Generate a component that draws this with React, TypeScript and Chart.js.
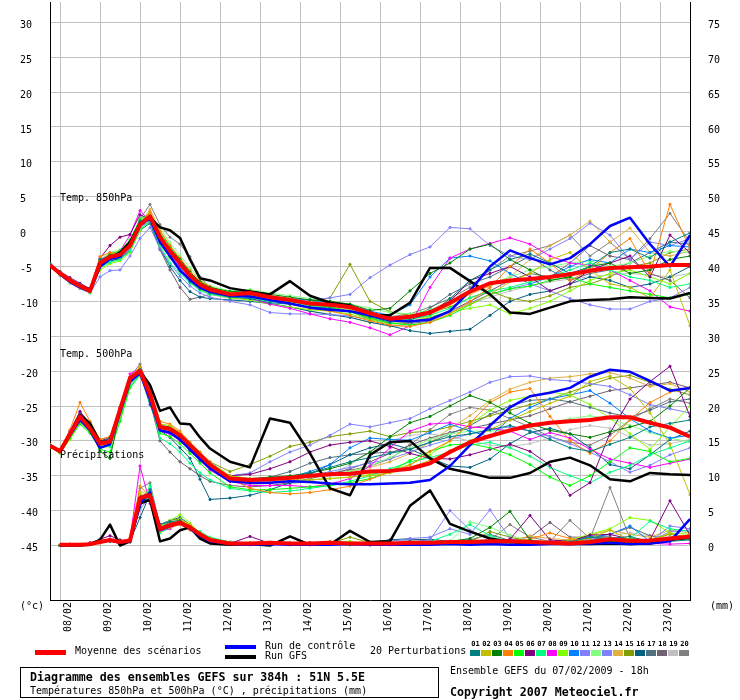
import React, { useEffect, useRef } from "react";
import { Chart, registerables } from "chart.js";
Chart.register(...registerables);

// ---------- time axes (hours after 08/02 00h) ----------
const HOURS_T = [-6, 0, 6, 12, 18, 24, 30, 36, 42, 48, 54, 60, 66, 72, 78, 84, 90,
  102, 114, 126, 138, 150, 162, 174, 186, 198, 210, 222, 234, 246, 258, 270, 282, 294, 306, 318, 330, 342, 354, 366, 378];
const HOURS_P = [0, 6, 12, 18, 24, 30, 36, 42, 48, 54, 60, 66, 72, 78, 84, 90,
  102, 114, 126, 138, 150, 162, 174, 186, 198, 210, 222, 234, 246, 258, 270, 282, 294, 306, 318, 330, 342, 354, 366, 378];
const DAY_HOURS = [0, 24, 48, 72, 96, 120, 144, 168, 192, 216, 240, 264, 288, 312, 336, 360];
const DATE_LABELS = ["08/02", "09/02", "10/02", "11/02", "12/02", "13/02", "14/02", "15/02", "16/02", "17/02", "18/02", "19/02", "20/02", "21/02", "22/02", "23/02"];
const LEFT_TICKS = [-45, -40, -35, -30, -25, -20, -15, -10, -5, 0, 5, 10, 15, 20, 25, 30];
const RIGHT_TICKS = [0, 5, 10, 15, 20, 25, 30, 35, 40, 45, 50, 55, 60, 65, 70, 75];

const MEMBER_IDS = ["01", "02", "03", "04", "05", "06", "07", "08", "09", "10", "11", "12", "13", "14", "15", "16", "17", "18", "19", "20"];
const MEMBER_COLORS = ["#008080", "#c0c000", "#008000", "#ff8000", "#00ff00", "#800080", "#00ff80", "#ff00ff", "#80ff00", "#0080ff",
  "#8080ff", "#80ff80", "#8080ff", "#e0b040", "#80a000", "#006080", "#507080", "#706070", "#c0c0c0", "#808080"];

// ---------- Temp 850 hPa ----------
const T850_MEAN = [-4.8, -6.0, -7.0, -7.8, -8.5, -4.5, -3.6, -3.3, -2.0, 1.0, 2.2, -0.8, -2.8, -4.5, -6.3, -7.6, -8.3,
  -9.0, -8.8, -9.4, -9.8, -10.3, -10.5, -10.8, -11.7, -12.5, -12.2, -11.6, -10.2, -8.6, -7.4, -7.0, -6.8, -6.5, -6.1, -5.6, -5.2, -5.1, -5.0, -4.8, -4.8];
const T850_CTRL = [-4.8, -6.1, -7.2, -8.0, -8.6, -5.0, -3.9, -3.6, -1.8, 1.2, 1.8, -1.5, -3.5, -5.6, -6.9, -8.0, -8.6,
  -9.2, -9.3, -9.8, -10.3, -10.9, -11.2, -11.4, -12.0, -12.7, -12.9, -12.6, -11.4, -8.5, -5.0, -2.7, -3.8, -4.7, -3.8, -1.8, 0.8, 2.0, -1.8, -5.0, -0.5];
const T850_GFS = [-4.8, -6.0, -7.0, -7.8, -8.3, -5.0, -3.8, -3.0, -1.5, 1.2, 2.0, 0.6, 0.2, -0.9, -4.0, -6.7, -7.0,
  -8.1, -8.6, -9.0, -7.1, -9.2, -10.2, -10.6, -12.0, -12.0, -10.2, -5.2, -5.2, -7.1, -9.0, -11.6, -11.8, -10.9, -10.0, -9.8, -9.7, -9.4, -9.5, -9.6, -8.8];
const T850_MEMBERS = [
  [-4.6, -5.8, -6.9, -7.6, -8.4, -4.0, -3.5, -3.0, -1.5, 1.5, 2.0, -1.6, -3.6, -5.5, -7.2, -8.2, -8.8, -9.4, -9.6, -10.2, -10.4, -10.8, -11.0, -11.5, -12.2, -13.0, -12.6, -11.8, -9.6, -7.0, -5.5, -4.0, -3.2, -4.5, -6.0, -5.0, -3.0, -2.5, -3.8, -1.5, -0.2],
  [-4.9, -6.1, -7.1, -7.9, -8.6, -4.8, -3.8, -3.4, -2.2, 0.8, 2.4, -0.5, -2.5, -4.2, -6.0, -7.4, -8.2, -8.8, -8.6, -9.2, -9.6, -10.2, -10.6, -11.2, -12.0, -12.6, -12.8, -12.5, -11.6, -10.4, -9.0, -7.2, -6.0, -4.0, -3.0, -5.5, -7.5, -8.0, -9.5, -5.5, -13.5],
  [-4.8, -5.9, -7.0, -7.7, -8.4, -4.2, -3.4, -3.1, -1.6, 1.4, 2.3, -0.6, -2.4, -4.0, -5.8, -7.2, -8.0, -8.6, -8.5, -9.0, -9.4, -9.8, -10.0, -10.4, -11.3, -11.0, -8.5, -6.0, -4.5, -2.5, -1.8, -4.0, -5.5, -7.0, -6.5, -5.0, -4.5, -6.0, -5.5, -4.0, -3.5],
  [-4.7, -5.8, -6.8, -7.6, -8.3, -3.6, -3.0, -3.2, -1.8, 1.2, 2.8, 0.0, -2.0, -3.8, -5.6, -7.0, -7.9, -8.8, -9.2, -9.8, -10.4, -11.0, -11.4, -12.0, -12.8, -13.4, -13.6, -13.0, -11.8, -10.0, -8.0, -5.0, -2.5, -4.5, -7.0, -5.5, -3.0, -1.0, -6.0, 3.9, -2.5],
  [-4.9, -6.0, -6.9, -7.7, -8.4, -4.4, -3.2, -2.8, -1.2, 1.8, 2.5, -0.2, -2.2, -4.0, -5.9, -7.3, -8.1, -9.0, -9.1, -9.6, -10.0, -10.5, -10.8, -11.5, -12.4, -13.1, -13.4, -13.0, -12.0, -10.5, -9.0, -8.2, -7.8, -7.0, -6.5, -7.5, -8.0, -8.5, -9.0, -9.5, -9.0],
  [-4.7, -5.7, -6.6, -7.4, -8.2, -3.8, -2.0, -0.8, -0.4, 2.4, 1.8, -1.2, -3.0, -4.8, -6.5, -7.7, -8.4, -8.9, -9.0, -9.5, -9.9, -10.4, -10.6, -11.0, -11.8, -12.4, -12.2, -11.4, -10.0, -7.0, -6.0, -5.0, -6.5, -8.5, -7.5, -5.5, -4.5, -3.5, -6.5, -0.5, -3.0],
  [-4.8, -6.1, -7.2, -8.0, -8.7, -5.2, -4.4, -4.0, -2.8, 0.4, 1.4, -2.0, -4.5, -6.0, -7.4, -8.4, -9.0, -9.4, -9.5, -10.0, -10.3, -10.6, -11.0, -11.5, -12.2, -12.8, -12.6, -12.0, -11.0, -9.5, -8.5, -8.0, -7.2, -6.5, -5.5, -4.5, -5.5, -6.5, -7.0, -8.0, -7.5],
  [-4.8, -5.9, -6.9, -7.8, -8.6, -4.6, -3.8, -2.8, -0.5, 3.0, 1.5, -1.0, -3.2, -5.0, -6.8, -8.0, -8.8, -9.3, -9.6, -10.4, -11.0, -11.8, -12.5, -13.0, -13.8, -14.8, -13.5, -8.0, -3.8, -2.5, -1.7, -0.9, -1.8, -3.5, -4.5, -4.8, -5.5, -7.0, -8.5, -10.8, -11.4],
  [-5.0, -6.2, -7.3, -8.1, -8.8, -5.5, -4.6, -4.2, -3.0, 0.2, 1.6, -1.8, -3.8, -5.6, -7.0, -8.2, -8.9, -9.5, -9.8, -10.4, -10.8, -11.2, -11.4, -11.8, -12.6, -13.2, -13.0, -12.2, -11.5, -11.0, -10.5, -11.8, -11.0, -10.0, -8.5, -7.0, -6.0, -5.5, -6.5, -7.5, -6.0],
  [-4.8, -6.0, -7.1, -7.9, -8.6, -4.4, -3.5, -3.5, -2.2, 0.6, 1.9, -1.4, -3.4, -5.2, -6.9, -8.0, -8.6, -9.0, -8.8, -9.2, -9.6, -9.8, -10.2, -10.6, -11.4, -12.0, -10.5, -6.5, -3.8, -3.5, -4.2, -6.0, -7.5, -6.5, -5.0, -4.0, -4.5, -2.5, -3.0, -2.0, -2.2],
  [-5.0, -6.3, -7.4, -8.2, -8.8, -6.5, -5.6, -5.5, -3.5, -1.0, 0.6, -2.4, -4.6, -6.4, -7.8, -8.8, -9.4, -10.0, -10.5, -11.6, -11.8, -11.8, -11.9, -12.1, -12.6, -13.2, -13.0, -12.4, -11.4, -10.2, -9.0, -8.2, -7.5, -8.5, -9.6, -10.5, -11.1, -11.1, -10.0, -9.5, -8.0],
  [-4.8, -5.9, -6.8, -7.6, -8.2, -4.2, -3.0, -2.6, -1.2, 1.6, 2.6, 0.5, -1.6, -3.4, -5.2, -6.8, -7.8, -8.5, -8.3, -8.8, -9.2, -9.6, -10.0, -10.4, -11.0, -11.6, -11.8, -11.2, -10.0, -8.8, -7.5, -6.5, -5.5, -5.0, -4.5, -4.2, -5.0, -4.5, -3.5, -2.8, -3.0],
  [-4.8, -6.0, -7.0, -7.8, -8.5, -4.8, -4.0, -3.6, -2.4, 0.6, 1.6, -1.6, -3.6, -5.4, -7.0, -8.1, -8.8, -9.2, -9.4, -9.8, -9.9, -9.8, -9.5, -9.0, -6.6, -4.8, -3.3, -2.2, 0.6, 0.4, -2.0, -3.5, -4.0, -2.5, -1.0, 1.2, -0.5, -4.0, -1.5, -2.0, -1.0],
  [-4.9, -6.1, -7.1, -7.9, -8.6, -4.6, -3.7, -3.3, -1.9, 1.1, 3.2, 0.2, -2.0, -4.0, -5.8, -7.2, -8.0, -8.7, -8.9, -9.5, -10.0, -10.6, -11.0, -11.5, -12.4, -13.2, -13.0, -12.0, -10.5, -9.0, -7.8, -6.5, -4.0, -2.0, -0.5, 1.5, -1.5, 0.5, -3.0, -3.5, -2.8],
  [-4.7, -5.8, -6.8, -7.6, -8.3, -4.3, -3.4, -3.2, -2.0, 1.0, 2.0, -1.0, -3.0, -4.8, -6.5, -7.8, -8.5, -8.9, -8.9, -9.4, -9.8, -10.2, -9.5, -4.7, -10.0, -11.5, -12.0, -11.6, -10.8, -9.5, -8.5, -9.6, -10.0, -9.2, -8.0, -7.5, -6.5, -5.0, -4.5, -3.0, -2.5],
  [-4.8, -6.0, -7.0, -7.8, -8.4, -4.9, -4.2, -3.9, -2.8, 0.2, 1.2, -2.4, -5.0, -7.0, -8.6, -9.4, -9.6, -9.8, -10.0, -10.3, -10.8, -11.4, -11.9, -12.3, -13.0, -13.5, -14.2, -14.6, -14.3, -14.0, -12.0, -10.0, -9.0, -8.5, -7.5, -6.5, -7.0, -8.0, -7.5, -6.5, -5.0],
  [-4.8, -5.9, -6.9, -7.7, -8.4, -4.5, -3.6, -3.4, -2.1, 1.2, 2.4, -0.4, -2.6, -4.4, -6.2, -7.6, -8.4, -9.0, -9.0, -9.6, -10.0, -10.4, -10.6, -11.0, -12.0, -12.8, -12.4, -11.0, -9.0, -7.5, -6.5, -5.0, -3.5, -5.5, -7.0, -6.0, -5.5, -4.5, -3.0, -1.5, -1.8],
  [-4.8, -6.0, -7.0, -7.8, -8.5, -5.0, -4.2, -3.8, -2.6, 0.8, 1.4, -2.6, -5.5, -8.0, -9.7, -9.4, -9.0, -9.2, -9.0, -9.6, -10.0, -10.5, -10.8, -11.4, -12.6, -13.2, -13.2, -12.8, -11.4, -10.0, -8.5, -7.0, -6.0, -6.5, -4.5, -2.0, -3.5, -4.0, -6.0, -7.0, -9.5],
  [-4.9, -6.1, -7.1, -7.9, -8.6, -5.2, -4.3, -3.8, -2.4, 0.9, 1.7, -1.8, -3.8, -5.6, -7.2, -8.4, -9.0, -9.6, -9.8, -10.4, -10.8, -11.4, -11.8, -12.3, -13.0, -13.6, -13.5, -12.9, -11.6, -10.4, -9.4, -8.5, -7.8, -7.2, -6.8, -6.5, -6.2, -6.0, -6.2, -6.5, -6.0],
  [-4.8, -6.0, -7.0, -7.8, -8.4, -4.0, -3.2, -2.8, -1.6, 1.8, 3.9, 1.0, -0.8, -1.8, -3.6, -6.5, -8.0, -8.8, -8.8, -9.3, -9.7, -10.2, -10.4, -10.8, -11.6, -12.2, -11.8, -10.8, -9.6, -8.0, -5.5, -3.5, -2.8, -2.0, -0.5, -3.5, -1.5, -4.0, -1.0, 2.6, -1.5],
];

// ---------- Temp 500 hPa ----------
const T500_MEAN = [-30.7, -31.5, -29.0, -26.5, -28.2, -30.4, -30.1, -25.5, -21.0, -20.0, -23.3, -28.0, -28.3, -29.2, -30.6, -32.0, -33.4,
  -35.4, -35.6, -35.5, -35.3, -35.0, -34.8, -34.7, -34.4, -34.3, -34.0, -33.2, -31.6, -30.2, -29.3, -28.5, -27.8, -27.4, -27.2, -27.0, -26.6, -26.6, -27.4, -28.1, -29.4];
const T500_CTRL = [-30.7, -31.6, -29.2, -27.0, -28.5, -31.0, -30.5, -26.0, -21.5, -20.3, -24.0, -28.5, -28.8, -29.8, -31.2, -32.6, -33.9,
  -35.8, -36.0, -36.0, -35.8, -35.9, -36.1, -36.2, -36.2, -36.1, -36.0, -35.6, -33.6, -30.6, -27.8, -25.2, -23.6, -23.1, -22.4, -20.8, -19.8, -20.1, -21.4, -22.8, -22.4];
const T500_GFS = [-30.7, -31.5, -29.0, -26.3, -27.5, -30.2, -30.0, -25.5, -21.0, -20.0, -22.0, -25.7, -25.2, -27.5, -27.6, -29.5, -31.1,
  -33.0, -33.8, -26.8, -27.4, -31.8, -36.8, -37.8, -32.0, -30.2, -30.0, -32.5, -34.0, -34.6, -35.3, -35.3, -34.6, -33.0, -32.4, -33.5, -35.5, -35.8, -34.6, -34.8, -34.9];
const T500_MEMBERS = [
  [-30.6, -31.4, -28.8, -26.2, -28.0, -30.2, -29.6, -25.6, -21.0, -19.8, -23.5, -28.4, -28.8, -29.8, -31.4, -32.8, -34.0, -35.6, -35.8, -35.4, -35.2, -34.6, -33.8, -33.0, -32.4, -31.8, -31.2, -30.2, -29.4, -29.0, -28.4, -27.8, -28.6, -29.8, -31.0, -31.5, -30.5, -29.5, -28.0, -27.5, -27.0],
  [-30.8, -31.6, -29.2, -26.8, -28.4, -30.6, -30.4, -26.4, -21.8, -19.6, -22.8, -27.6, -27.8, -28.8, -30.4, -31.8, -33.2, -35.0, -35.4, -35.4, -35.6, -35.6, -35.4, -35.2, -35.0, -34.6, -33.8, -32.8, -31.4, -30.0, -28.4, -27.0, -25.8, -24.6, -23.6, -21.5, -20.7, -22.5, -26.0, -30.5, -37.7],
  [-30.7, -31.5, -29.0, -26.6, -28.1, -31.5, -32.5, -25.8, -21.2, -19.9, -23.0, -27.8, -28.0, -29.0, -30.4, -31.8, -33.2, -35.2, -35.4, -35.2, -35.0, -34.6, -34.0, -33.2, -31.6, -29.4, -27.4, -26.5, -25.0, -23.5, -24.5, -26.0, -27.5, -28.5, -29.0, -29.5, -28.7, -28.0, -27.2, -25.0, -22.4],
  [-30.5, -31.2, -28.4, -24.5, -27.2, -29.8, -29.4, -25.2, -20.8, -19.4, -22.5, -27.2, -27.6, -28.6, -30.2, -31.6, -33.0, -35.4, -36.8, -37.4, -37.6, -37.4, -37.0, -36.5, -35.5, -34.5, -33.5, -31.5, -30.0, -27.5, -24.5, -23.0, -22.5, -26.5, -30.0, -31.8, -30.0, -27.0, -24.5, -23.0, -22.3],
  [-30.8, -31.7, -29.6, -27.6, -28.9, -31.2, -31.6, -27.2, -22.4, -20.6, -24.0, -28.9, -29.4, -30.4, -31.8, -33.2, -34.6, -36.6, -37.0, -37.0, -36.8, -36.6, -36.4, -36.0, -35.4, -34.4, -32.8, -31.5, -30.6, -30.4, -31.0, -32.0, -33.4, -35.2, -36.4, -35.0, -33.0, -31.0, -31.5, -33.0, -32.5],
  [-30.6, -31.3, -28.6, -25.8, -27.6, -30.0, -29.6, -25.4, -21.0, -19.6, -23.0, -27.9, -28.4, -29.4, -30.8, -32.2, -33.6, -35.0, -34.8, -34.0, -33.0, -31.6, -30.6, -30.2, -30.0, -30.8, -31.8, -32.5, -32.6, -32.0, -31.2, -30.5, -31.5, -33.5, -37.8, -36.0, -28.9, -24.0, -21.5, -19.3, -26.5],
  [-30.8, -31.6, -29.4, -27.0, -28.6, -30.8, -30.8, -26.8, -22.2, -20.4, -24.2, -29.6, -30.4, -31.6, -33.2, -34.6, -35.6, -36.8, -37.2, -37.4, -37.2, -36.8, -36.4, -35.8, -35.0, -34.0, -33.0, -32.4, -31.6, -30.6, -30.2, -31.0, -32.2, -33.8, -35.0, -36.0, -34.5, -33.5, -32.0, -31.0, -30.0],
  [-30.7, -31.4, -28.8, -26.0, -27.8, -30.2, -29.8, -25.2, -20.4, -19.6, -23.6, -28.6, -29.0, -30.0, -31.4, -32.8, -34.2, -35.8, -36.4, -36.4, -36.4, -36.6, -36.2, -35.4, -33.6, -31.0, -28.6, -27.6, -27.4, -28.0, -28.2, -28.6, -29.8, -28.8, -29.6, -31.2, -32.6, -33.2, -33.8, -33.2, -32.6],
  [-30.9, -31.8, -29.8, -27.4, -28.8, -31.0, -30.8, -26.6, -21.8, -20.2, -23.8, -28.4, -28.6, -29.6, -31.0, -32.4, -33.8, -35.6, -36.0, -36.0, -35.8, -35.6, -35.4, -35.2, -34.8, -34.2, -33.4, -32.0, -30.0, -27.6, -25.6, -24.2, -23.6, -23.0, -23.4, -24.8, -26.8, -29.0, -31.2, -28.0, -25.0],
  [-30.7, -31.5, -29.1, -26.4, -28.0, -30.4, -30.2, -26.2, -21.6, -20.2, -23.8, -28.4, -28.8, -29.6, -31.2, -32.6, -34.0, -35.6, -35.8, -35.6, -35.2, -34.4, -33.4, -31.0, -29.6, -29.8, -29.9, -28.8, -27.6, -28.6, -29.4, -26.8, -25.2, -24.0, -23.4, -22.8, -24.6, -26.8, -28.6, -29.6, -29.2],
  [-30.6, -31.4, -28.9, -26.3, -27.9, -30.1, -29.9, -25.9, -21.3, -20.1, -23.7, -28.6, -29.0, -29.9, -31.2, -32.6, -33.9, -35.0, -34.6, -33.0, -31.6, -30.6, -29.2, -27.6, -28.0, -27.4, -26.8, -25.4, -24.2, -23.0, -21.6, -20.8, -20.7, -21.2, -21.4, -21.8, -22.2, -23.4, -24.8, -25.4, -26.0],
  [-30.7, -31.5, -29.0, -26.5, -28.2, -30.4, -30.0, -25.8, -21.2, -19.8, -23.0, -27.6, -28.0, -28.8, -30.2, -31.6, -33.0, -35.0, -35.4, -35.5, -35.3, -35.0, -34.8, -34.4, -33.6, -32.4, -31.0, -29.8, -29.0, -28.6, -28.6, -28.4, -28.0, -27.4, -26.8, -26.4, -26.8, -27.8, -28.8, -29.6, -30.2],
  [-30.8, -31.6, -29.3, -26.8, -28.4, -30.6, -30.4, -26.4, -21.9, -20.3, -23.4, -28.2, -28.6, -29.5, -30.9, -32.3, -33.6, -35.2, -35.6, -35.6, -35.4, -35.0, -34.4, -33.8, -33.2, -32.6, -31.6, -30.6, -29.8, -29.0, -28.4, -28.0, -28.6, -29.4, -30.4, -31.6, -33.0, -34.5, -33.5, -32.0, -31.0],
  [-30.6, -31.3, -28.7, -26.0, -27.6, -30.0, -29.6, -25.6, -21.0, -19.7, -23.1, -28.0, -28.4, -29.2, -30.6, -32.0, -33.4, -35.2, -35.6, -35.8, -35.6, -35.2, -34.8, -34.4, -33.8, -33.0, -31.8, -30.2, -28.2, -26.4, -24.2, -22.6, -21.6, -21.0, -20.8, -20.4, -20.2, -21.0, -22.2, -21.8, -23.0],
  [-30.8, -31.6, -29.2, -26.6, -28.3, -30.5, -30.2, -26.1, -21.6, -20.0, -23.2, -28.0, -28.2, -29.0, -30.4, -31.8, -33.0, -34.4, -33.4, -32.2, -30.8, -30.2, -29.4, -29.0, -28.6, -29.4, -28.8, -28.6, -28.0, -27.2, -26.4, -25.6, -24.8, -24.0, -23.0, -22.0, -21.0, -20.6, -21.6, -22.6, -23.4],
  [-30.7, -31.5, -29.0, -26.4, -28.0, -30.2, -29.8, -25.8, -21.4, -20.4, -24.8, -28.5, -29.5, -31.0, -32.5, -35.5, -38.4, -38.2, -37.8, -37.0, -36.0, -34.8, -33.4, -32.0, -31.0, -30.4, -31.2, -32.4, -33.6, -33.8, -32.6, -30.4, -28.8, -28.2, -29.0, -31.0, -33.4, -34.0, -32.0, -29.8, -28.6],
  [-30.7, -31.5, -29.0, -26.5, -28.1, -30.3, -30.0, -25.9, -21.4, -20.0, -23.3, -28.1, -28.4, -29.3, -30.8, -32.2, -33.6, -35.4, -35.6, -35.2, -34.4, -33.2, -32.4, -32.0, -31.8, -31.6, -31.2, -30.2, -29.0, -27.8, -26.2, -25.0, -24.2, -24.0, -24.4, -25.2, -26.0, -26.6, -25.6, -24.4, -24.0],
  [-30.7, -31.4, -28.8, -26.2, -27.8, -30.0, -29.8, -25.8, -21.2, -20.2, -24.4, -30.0, -31.6, -33.0, -34.0, -35.0, -35.8, -36.4, -36.6, -36.4, -36.0, -35.4, -34.8, -34.0, -33.0, -31.8, -30.6, -29.6, -28.8, -28.2, -27.6, -27.0, -26.4, -25.4, -24.4, -23.6, -22.8, -22.4, -22.0, -21.6, -22.4],
  [-30.8, -31.6, -29.4, -27.0, -28.6, -30.8, -30.6, -26.6, -22.0, -20.6, -23.8, -28.4, -28.8, -29.6, -31.0, -32.4, -33.8, -35.8, -36.2, -36.4, -36.2, -35.8, -35.0, -33.4, -31.6, -30.0, -29.2, -29.0, -29.4, -30.0, -30.6, -30.8, -30.4, -29.6, -28.4, -27.8, -28.2, -29.4, -30.6, -30.4, -29.8],
  [-30.6, -31.3, -28.6, -25.8, -27.4, -29.8, -29.4, -25.4, -20.8, -19.0, -22.8, -27.8, -28.6, -29.8, -31.2, -32.6, -34.0, -35.4, -35.6, -35.6, -35.4, -35.0, -34.6, -34.2, -33.6, -32.6, -30.6, -28.4, -26.2, -25.2, -25.6, -26.8, -28.0, -29.4, -30.2, -30.6, -29.2, -27.0, -25.4, -24.0, -24.6],
];

// ---------- Precipitation (mm) ----------
const PR_MEAN = [0.1, 0.1, 0.1, 0.2, 0.5, 0.8, 0.5, 0.7, 6.8, 7.2, 2.4, 2.9, 3.3, 2.6, 1.6, 0.8,
  0.3, 0.3, 0.4, 0.3, 0.3, 0.4, 0.3, 0.3, 0.3, 0.4, 0.4, 0.5, 0.5, 0.6, 0.6, 0.5, 0.4, 0.3, 0.5, 0.9, 0.7, 0.7, 1.0, 1.3];
const PR_CTRL = [0.0, 0.1, 0.1, 0.2, 0.5, 0.8, 0.4, 0.6, 6.0, 7.6, 2.2, 2.8, 3.2, 2.4, 1.4, 0.6,
  0.2, 0.1, 0.2, 0.1, 0.1, 0.1, 0.2, 0.1, 0.1, 0.1, 0.1, 0.2, 0.1, 0.2, 0.1, 0.1, 0.2, 0.2, 0.3, 0.4, 0.2, 0.3, 0.6, 3.8];
const PR_GFS = [0.0, 0.0, 0.0, 0.1, 0.8, 3.0, 0.0, 0.6, 6.0, 6.6, 0.6, 1.0, 2.2, 2.6, 1.0, 0.3,
  0.1, 0.2, 0.0, 1.3, 0.1, 0.1, 2.1, 0.5, 0.6, 5.7, 7.9, 3.1, 2.0, 1.0, 0.5, 0.3, 0.3, 0.2, 0.2, 0.3, 0.2, 0.3, 0.8, 1.2];
const PR_MEMBERS = [
  [0.0, 0.1, 0.1, 0.2, 0.6, 0.9, 0.4, 0.8, 5.5, 8.0, 3.0, 3.4, 3.6, 2.4, 1.2, 0.6, 0.2, 0.3, 0.2, 0.1, 0.2, 0.3, 0.2, 0.2, 0.3, 0.4, 0.5, 0.4, 0.3, 0.3, 0.6, 0.4, 0.3, 0.5, 1.2, 1.0, 1.3, 0.5, 0.6, 0.8],
  [0.1, 0.1, 0.0, 0.3, 0.4, 0.7, 0.3, 0.6, 7.5, 6.5, 2.0, 3.2, 3.8, 3.0, 1.8, 1.0, 0.4, 0.3, 0.5, 0.2, 0.1, 0.2, 0.3, 0.4, 0.2, 0.3, 0.2, 0.4, 0.6, 0.2, 0.3, 0.2, 0.4, 0.6, 1.0, 2.2, 0.8, 0.7, 1.8, 0.9],
  [0.0, 0.0, 0.1, 0.1, 0.5, 0.6, 0.6, 0.5, 6.0, 7.8, 2.6, 3.0, 3.2, 2.8, 1.6, 0.9, 0.3, 0.2, 0.4, 0.3, 0.2, 0.2, 0.1, 0.1, 0.2, 0.3, 0.4, 0.6, 1.0, 2.6, 4.9, 0.8, 0.4, 0.3, 0.4, 0.6, 0.5, 0.6, 0.8, 1.0],
  [0.1, 0.1, 0.1, 0.2, 0.5, 0.8, 0.6, 1.0, 8.5, 7.0, 2.2, 2.6, 3.0, 2.2, 1.4, 0.7, 0.2, 0.2, 0.3, 0.4, 0.3, 0.6, 0.3, 0.2, 0.2, 0.3, 0.2, 0.3, 0.4, 0.5, 0.6, 0.9, 1.8, 1.0, 0.5, 0.6, 0.4, 0.5, 0.7, 1.6],
  [0.0, 0.1, 0.1, 0.2, 0.4, 0.8, 0.5, 0.6, 6.2, 6.8, 2.4, 2.8, 3.6, 2.8, 1.8, 1.0, 0.4, 0.3, 0.3, 0.2, 0.3, 0.3, 0.4, 0.3, 0.2, 0.3, 0.4, 0.3, 0.3, 0.4, 0.4, 0.5, 0.5, 0.3, 0.6, 0.8, 1.0, 0.6, 0.9, 1.2],
  [0.1, 0.2, 0.1, 0.4, 0.9, 1.4, 0.8, 0.6, 7.0, 7.6, 2.2, 3.4, 3.0, 2.4, 1.8, 0.6, 0.3, 1.3, 0.3, 0.2, 0.4, 0.3, 0.2, 0.1, 0.2, 0.3, 0.3, 0.4, 0.3, 0.5, 0.9, 4.3, 0.8, 0.6, 1.5, 1.6, 0.9, 0.8, 6.4, 1.5],
  [0.0, 0.1, 0.1, 0.2, 0.5, 0.7, 0.5, 0.6, 5.8, 8.6, 1.8, 2.6, 3.2, 2.8, 2.0, 1.2, 0.5, 0.3, 0.2, 0.2, 0.3, 0.4, 0.3, 0.2, 0.3, 0.4, 0.6, 1.6, 3.0, 1.4, 0.5, 0.3, 0.4, 0.4, 0.5, 0.8, 1.0, 3.5, 2.4, 2.0],
  [0.0, 0.0, 0.1, 0.2, 0.6, 0.9, 0.6, 0.9, 11.4, 6.0, 2.0, 2.4, 3.4, 2.6, 1.4, 0.6, 0.2, 0.1, 0.2, 0.2, 0.1, 0.3, 0.2, 0.1, 0.1, 0.2, 0.2, 0.3, 0.2, 0.3, 0.4, 0.2, 0.3, 0.4, 0.3, 0.5, 0.4, 0.3, 0.2, 0.3],
  [0.1, 0.1, 0.2, 0.3, 0.5, 0.8, 0.4, 0.7, 7.2, 7.4, 2.6, 3.6, 4.4, 3.2, 1.8, 0.9, 0.4, 0.4, 0.3, 0.3, 0.4, 0.5, 0.6, 0.3, 0.3, 0.3, 0.2, 0.4, 0.5, 0.6, 0.7, 0.6, 0.5, 0.8, 1.6, 2.4, 4.0, 3.6, 1.8, 1.6],
  [0.0, 0.1, 0.1, 0.2, 0.4, 0.6, 0.5, 0.6, 6.4, 7.0, 2.6, 2.8, 3.4, 2.4, 1.6, 0.8, 0.3, 0.2, 0.3, 0.4, 0.3, 0.2, 0.2, 0.3, 0.2, 0.4, 0.3, 0.5, 0.6, 0.8, 0.5, 0.6, 0.4, 0.5, 1.2, 1.6, 2.8, 0.6, 0.9, 1.4],
  [0.0, 0.1, 0.1, 0.2, 0.5, 0.6, 0.4, 0.5, 5.2, 7.0, 2.8, 3.0, 3.0, 2.4, 1.4, 0.8, 0.3, 0.3, 0.2, 0.3, 0.2, 0.2, 0.3, 0.2, 0.3, 0.5, 0.8, 5.0, 2.2, 0.9, 0.4, 0.3, 0.5, 0.6, 0.9, 0.8, 0.6, 0.5, 2.8, 2.4],
  [0.1, 0.1, 0.1, 0.2, 0.6, 0.8, 0.5, 0.8, 6.6, 7.2, 2.2, 2.8, 3.2, 2.6, 1.6, 0.9, 0.3, 0.2, 0.3, 0.3, 0.2, 0.4, 0.3, 0.2, 0.2, 0.4, 0.5, 0.6, 3.4, 2.6, 1.5, 0.6, 0.5, 0.4, 0.6, 1.0, 0.9, 0.8, 1.1, 1.4],
  [0.0, 0.1, 0.1, 0.3, 0.7, 0.9, 0.5, 0.7, 6.8, 6.6, 2.4, 2.8, 3.0, 2.6, 1.6, 0.8, 0.2, 0.3, 0.3, 0.2, 0.3, 0.2, 0.2, 0.4, 0.6, 1.0, 1.2, 2.4, 1.6, 5.1, 1.0, 0.4, 0.6, 0.8, 0.6, 0.8, 0.7, 0.6, 2.0, 2.2],
  [0.1, 0.1, 0.1, 0.2, 0.5, 0.7, 0.6, 0.7, 7.8, 7.2, 2.4, 3.0, 3.4, 2.6, 1.6, 0.8, 0.3, 0.2, 0.2, 0.3, 0.3, 0.3, 0.2, 0.2, 0.3, 0.3, 0.4, 0.4, 0.3, 0.5, 0.6, 1.4, 1.0, 0.8, 1.5, 2.2, 1.6, 1.2, 2.2, 1.8],
  [0.0, 0.1, 0.1, 0.2, 0.5, 0.8, 0.6, 0.8, 7.0, 7.4, 2.6, 3.6, 3.8, 2.6, 1.6, 0.8, 0.3, 0.3, 0.2, 0.2, 0.2, 0.3, 1.2, 0.4, 0.3, 0.3, 0.2, 0.3, 0.5, 2.0, 1.2, 0.6, 0.5, 0.4, 0.8, 1.0, 0.6, 0.9, 1.6, 1.2],
  [0.0, 0.1, 0.1, 0.2, 0.6, 0.7, 0.4, 0.6, 4.0, 7.4, 3.0, 3.6, 4.0, 3.0, 1.6, 0.6, 0.2, 0.2, 0.3, 0.2, 0.2, 0.3, 0.4, 0.4, 0.8, 0.8, 0.9, 0.6, 0.8, 0.5, 0.7, 0.6, 0.5, 0.6, 1.1, 1.0, 0.9, 0.8, 1.0, 0.9],
  [0.0, 0.1, 0.1, 0.2, 0.5, 0.7, 0.5, 0.6, 6.0, 7.0, 2.6, 3.0, 3.2, 2.8, 1.8, 1.0, 0.5, 0.4, 0.3, 0.3, 0.4, 0.4, 0.3, 0.5, 0.8, 1.0, 0.6, 0.6, 0.8, 1.6, 0.7, 0.6, 0.5, 0.6, 1.4, 1.2, 0.8, 0.7, 0.9, 1.2],
  [0.0, 0.1, 0.1, 0.2, 0.4, 0.7, 0.5, 0.7, 6.4, 7.6, 2.2, 2.6, 3.2, 2.6, 1.6, 0.9, 0.3, 0.3, 0.2, 0.3, 0.2, 0.2, 0.3, 0.2, 0.2, 0.3, 0.4, 0.5, 0.4, 0.6, 0.8, 1.2, 3.3, 1.2, 1.2, 1.6, 2.6, 1.4, 0.8, 1.2],
  [0.0, 0.1, 0.1, 0.2, 0.5, 0.6, 0.5, 0.6, 6.2, 6.8, 2.0, 2.6, 3.0, 2.6, 1.6, 0.8, 0.3, 0.2, 0.2, 0.3, 0.2, 0.4, 0.3, 0.2, 0.2, 0.3, 0.3, 0.4, 0.4, 0.6, 0.5, 0.6, 0.4, 0.5, 0.8, 1.4, 1.8, 1.4, 1.2, 1.4],
  [0.1, 0.1, 0.1, 0.3, 0.6, 0.8, 0.6, 1.0, 8.2, 9.0, 2.8, 3.2, 3.0, 2.4, 1.4, 0.8, 0.3, 0.3, 0.2, 0.2, 0.3, 0.3, 0.2, 0.3, 0.2, 0.3, 0.4, 0.5, 0.6, 0.8, 3.0, 1.2, 0.6, 3.6, 1.0, 8.3, 1.0, 0.8, 0.9, 1.0],
];

const MONO = "'DejaVu Sans Mono', 'Liberation Mono', monospace";

function pts(hours: number[], values: number[]) {
  return values.map((v, i) => ({ x: hours[i], y: v }));
}

function buildDatasets() {
  const ds: any[] = [];
  const group = (members: number[][], ctrl: number[], gfs: number[], mean: number[], hours: number[], axis: string) => {
    members.forEach((vals, k) => {
      ds.push({
        data: pts(hours, vals), yAxisID: axis, order: 3,
        borderColor: MEMBER_COLORS[k], backgroundColor: MEMBER_COLORS[k],
        borderWidth: 1, pointRadius: 1.1, pointBorderWidth: 1, pointHoverRadius: 0,
      });
    });
    ds.push({ data: pts(hours, gfs), yAxisID: axis, order: 2, borderColor: "#000000", borderWidth: 2.5, pointRadius: 0, borderJoinStyle: "round" });
    ds.push({ data: pts(hours, ctrl), yAxisID: axis, order: 1, borderColor: "#0000ff", borderWidth: 2.5, pointRadius: 0, borderJoinStyle: "round" });
    ds.push({ data: pts(hours, mean), yAxisID: axis, order: 0, borderColor: "#ff0000", borderWidth: 4, pointRadius: 0, borderJoinStyle: "round" });
  };
  group(PR_MEMBERS, PR_CTRL, PR_GFS, PR_MEAN, HOURS_P, "y2");
  group(T500_MEMBERS, T500_CTRL, T500_GFS, T500_MEAN, HOURS_T, "y");
  group(T850_MEMBERS, T850_CTRL, T850_GFS, T850_MEAN, HOURS_T, "y");
  return ds;
}

function Txt(props: { x: number; cy: number; size?: number; bold?: boolean; children: any }) {
  const { x, cy, size = 10, bold = false, children } = props;
  return (
    <div style={{
      position: "absolute", left: x, top: cy - 7, height: 14, lineHeight: "14px",
      font: `${bold ? "bold " : ""}${size}px ${MONO}`, whiteSpace: "pre", color: "#000",
    }}>{children}</div>
  );
}

export default function App() {
  const ref = useRef<HTMLCanvasElement>(null);

  useEffect(() => {
    if (!ref.current) return;
    const tickFont = { family: MONO, size: 10 };
    const chart = new Chart(ref.current, {
      type: "line",
      data: { datasets: buildDatasets() },
      options: {
        animation: false,
        responsive: false,
        devicePixelRatio: 1,
        events: [],
        layout: { padding: { left: 20, right: 0, top: 0, bottom: 0 } },
        plugins: { legend: { display: false }, tooltip: { enabled: false }, title: { display: false } },
        elements: { line: { tension: 0 } },
        scales: {
          x: {
            type: "linear", position: "bottom", min: -6, max: 378,
            afterBuildTicks: (s: any) => { s.ticks = DAY_HOURS.map((v) => ({ value: v })); },
            afterFit: (s: any) => { s.height = 100; s.paddingLeft = 0; s.paddingRight = 0; },
            grid: { color: "#c0c0c0", lineWidth: 1, drawTicks: false },
            border: { display: true, color: "#000000", width: 1 },
            ticks: {
              autoSkip: false, minRotation: 90, maxRotation: 90, padding: 2, labelOffset: 8,
              color: "#000", font: tickFont,
              callback: (_v: any, i: number) => DATE_LABELS[i],
            },
          },
          y: {
            type: "linear", position: "left", min: -52.81, max: 32.9,
            afterBuildTicks: (s: any) => { s.ticks = LEFT_TICKS.map((v) => ({ value: v })); },
            afterFit: (s: any) => { s.width = 30; s.paddingTop = 0; s.paddingBottom = 0; },
            grid: { color: "#c0c0c0", lineWidth: 1, drawTicks: false },
            border: { display: true, color: "#000000", width: 1 },
            ticks: { padding: 0, crossAlign: "far", labelOffset: 3, color: "#000", font: tickFont },
          },
          y2: {
            type: "linear", position: "right", min: -7.81, max: 77.9,
            afterBuildTicks: (s: any) => { s.ticks = RIGHT_TICKS.map((v) => ({ value: v })); },
            afterFit: (s: any) => { s.width = 50; s.paddingTop = 0; s.paddingBottom = 0; },
            grid: { display: false, drawTicks: false },
            border: { display: true, color: "#000000", width: 1 },
            ticks: { padding: 18, labelOffset: 3, color: "#000", font: tickFont },
          },
        },
      } as any,
    });
    return () => chart.destroy();
  }, []);

  return (
    <div style={{ position: "absolute", left: 0, top: 0, width: 740, height: 700, background: "#fff", overflow: "hidden" }}>
      <canvas ref={ref} width={740} height={700} style={{ position: "absolute", left: 0, top: 0, width: 740, height: 700 }} />

      <Txt x={60} cy={199}>Temp. 850hPa</Txt>
      <Txt x={60} cy={355}>Temp. 500hPa</Txt>
      <Txt x={60} cy={456}>Précipitations</Txt>

      <Txt x={20} cy={607}>(°c)</Txt>
      <Txt x={710} cy={607}>(mm)</Txt>

      <div style={{ position: "absolute", left: 35, top: 650, width: 31, height: 5, background: "#ff0000" }} />
      <Txt x={75} cy={652}>Moyenne des scénarios</Txt>
      <div style={{ position: "absolute", left: 225, top: 645, width: 31, height: 4, background: "#0000ff" }} />
      <div style={{ position: "absolute", left: 225, top: 655, width: 31, height: 4, background: "#000000" }} />
      <Txt x={265} cy={647}>Run de contrôle</Txt>
      <Txt x={265} cy={657}>Run GFS</Txt>

      <Txt x={370} cy={652}>20 Perturbations</Txt>
      {MEMBER_IDS.map((id, i) => (
        <React.Fragment key={id}>
          <div style={{
            position: "absolute", left: 470 + i * 11, top: 640, width: 11, height: 8, textAlign: "center",
            font: `bold 7px ${MONO}`, lineHeight: "8px", color: "#000",
          }}>{id}</div>
          <div style={{ position: "absolute", left: 470 + i * 11, top: 650, width: 10, height: 6, background: MEMBER_COLORS[i] }} />
        </React.Fragment>
      ))}

      <div style={{ position: "absolute", left: 20, top: 667, width: 419, height: 31, border: "1px solid #000", boxSizing: "border-box" }} />
      <Txt x={30} cy={677} size={11.6} bold>Diagramme des ensembles GEFS sur 384h : 51N 5.5E</Txt>
      <Txt x={30} cy={692}>Températures 850hPa et 500hPa (°C) , précipitations (mm)</Txt>

      <Txt x={450} cy={672}>Ensemble GEFS du 07/02/2009 - 18h</Txt>
      <Txt x={450} cy={692} size={11.6} bold>Copyright 2007 Meteociel.fr</Txt>
    </div>
  );
}
